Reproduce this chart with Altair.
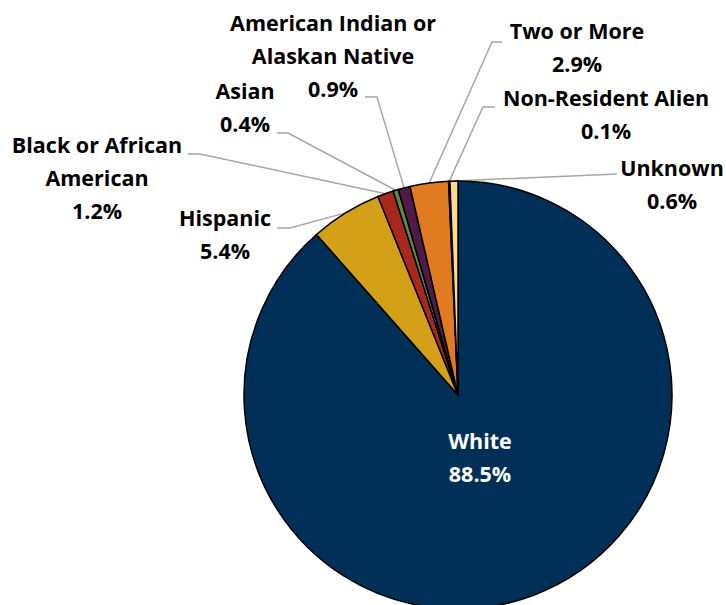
import altair as alt
import pandas as pd
import numpy as np

# ---- data ----
categories = ["White", "Hispanic", "Black or African American", "Asian",
              "American Indian or Alaskan Native", "Two or More",
              "Non-Resident Alien", "Unknown"]
values = [88.5, 5.4, 1.2, 0.4, 0.9, 2.9, 0.1, 0.6]
colors = ["#003057", "#D4A017", "#A8291C", "#5E8B3A", "#4E1A47",
          "#E07B1F", "#595959", "#FFD98C"]
label_text = ["White\n88.5%", "Hispanic\n5.4%", "Black or African\nAmerican\n1.2%",
              "Asian\n0.4%", "American Indian or\nAlaskan Native\n0.9%",
              "Two or More\n2.9%", "Non-Resident Alien\n0.1%", "Unknown\n0.6%"]

# ---- layout (pixels) ----
W, H = 726, 605
CX, CY, R = 458, 395, 214
# first-line centre of each label block
label_pos = {
    "White": (480, 443),
    "Hispanic": (225, 220),
    "Black or African American": (97, 147),
    "Asian": (245, 93),
    "American Indian or Alaskan Native": (333, 25),
    "Two or More": (577, 33),
    "Non-Resident Alien": (606, 100),
    "Unknown": (672, 170),
}
leader = {
    "Hispanic": [(290, 228), (277, 228)],
    "Black or African American": [(200, 154), (188, 154)],
    "Asian": [(288, 133), (277, 133)],
    "American Indian or Alaskan Native": [(377, 97), (365, 97)],
    "Two or More": [(492, 42), (502, 42)],
    "Non-Resident Alien": [(483, 107), (495, 107)],
    "Unknown": [(617, 174)],
}

df = pd.DataFrame({"cat": categories, "value": values, "idx": range(len(values))})

cum = np.cumsum([0] + values[:-1])
mid_frac = (cum + np.array(values) / 2) / sum(values)
ang = 2 * np.pi * mid_frac
sx = CX + R * np.sin(ang)
sy = CY - R * np.cos(ang)

rows = []
for i, c in enumerate(categories):
    if c not in leader:
        continue
    pts = [(sx[i], sy[i])] + leader[c]
    for j, (px, py) in enumerate(pts):
        rows.append({"cat": c, "px": px, "py": py, "seq": j})
lines_df = pd.DataFrame(rows)

lab_df = pd.DataFrame({
    "cat": categories,
    "text": label_text,
    "lx": [label_pos[c][0] for c in categories],
    "ly": [label_pos[c][1] for c in categories],
    "fc": ["white"] + ["black"] * (len(categories) - 1),
})

pie = alt.Chart(df).mark_arc(outerRadius=R, stroke="black", strokeWidth=1.5).encode(
    theta=alt.Theta("value:Q", stack=True),
    order=alt.Order("idx:Q"),
    color=alt.Color("cat:N", scale=alt.Scale(domain=categories, range=colors), legend=None),
    x=alt.value(CX), y=alt.value(CY),
)

lines = alt.Chart(lines_df).mark_line(color="#A6A6A6", strokeWidth=1.5).encode(
    x=alt.X("px:Q", scale=None, axis=None),
    y=alt.Y("py:Q", scale=None, axis=None),
    detail="cat:N",
    order="seq:Q",
)

labels = alt.Chart(lab_df).mark_text(
    font="Open Sans", fontWeight="bold", fontSize=21.5, lineBreak="\n", lineHeight=33,
    align="center", baseline="middle",
).encode(
    x=alt.X("lx:Q", scale=None, axis=None),
    y=alt.Y("ly:Q", scale=None, axis=None),
    text="text:N",
    color=alt.Color("fc:N", scale=None),
)

chart = alt.layer(lines, pie, labels).properties(
    width=W, height=H, padding=0, autosize=alt.AutoSizeParams(type="none"),
    background="white",
).configure_view(stroke=None)

chart.save("out.html", embed_options={"renderer": "svg", "actions": False})
